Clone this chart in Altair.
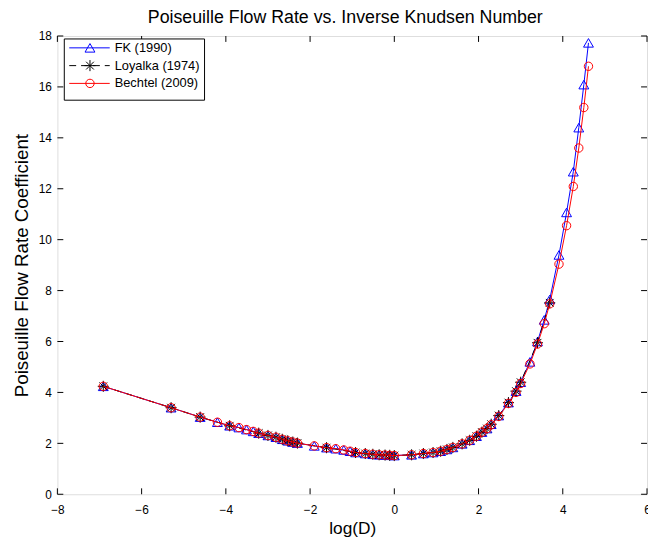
import altair as alt
import pandas as pd

series = ["FK (1990)", "Loyalka (1974)", "Bechtel (2009)"]

fk_x = [-6.91, -5.30, -4.61, -4.20, -3.91, -3.69, -3.51, -3.35, -3.22, -3.00,
        -2.81, -2.66, -2.53, -2.41, -2.30, -1.90, -1.61, -1.39, -1.20, -1.05,
        -0.92, -0.69, -0.51, -0.36, -0.22, -0.11, 0.00, 0.41, 0.69, 0.92,
        1.10, 1.25, 1.39, 1.61, 1.79, 1.95, 2.08, 2.20, 2.30, 2.48,
        2.71, 2.89, 3.00, 3.22, 3.40, 3.56, 3.69, 3.91, 4.09, 4.25,
        4.38, 4.50, 4.61]
fk_y = [4.24, 3.40, 3.03, 2.83, 2.69, 2.62, 2.54, 2.47, 2.40, 2.31,
        2.24, 2.16, 2.10, 2.05, 2.01, 1.90, 1.83, 1.79, 1.74, 1.69,
        1.64, 1.60, 1.57, 1.55, 1.54, 1.53, 1.52, 1.55, 1.60, 1.64,
        1.69, 1.76, 1.84, 1.98, 2.12, 2.28, 2.44, 2.58, 2.75, 3.09,
        3.60, 4.05, 4.40, 5.20, 6.00, 6.85, 7.65, 9.40, 11.07, 12.67,
        14.40, 16.09, 17.73]

loy_x = [-6.91, -5.30, -4.61, -3.91, -3.22, -3.00, -2.81, -2.66, -2.53, -2.41,
         -2.30, -1.61, -0.92, -0.69, -0.51, -0.36, -0.22, -0.11, 0.00, 0.41,
         0.69, 0.92, 1.10, 1.25, 1.39, 1.61, 1.79, 1.95, 2.08, 2.20,
         2.30, 2.48, 2.71, 2.89, 3.00, 3.40, 3.69]
loy_y = [4.24, 3.40, 3.03, 2.69, 2.40, 2.31, 2.24, 2.16, 2.10, 2.05,
         2.01, 1.83, 1.64, 1.60, 1.57, 1.55, 1.54, 1.53, 1.52, 1.55,
         1.60, 1.64, 1.69, 1.76, 1.84, 1.98, 2.12, 2.28, 2.44, 2.58,
         2.75, 3.09, 3.60, 4.05, 4.40, 5.95, 7.52]

bech_x = [-6.91, -5.30, -4.61, -4.20, -3.91, -3.69, -3.51, -3.35, -3.22, -3.00,
          -2.81, -2.66, -2.53, -2.41, -2.30, -1.90, -1.61, -1.39, -1.20, -1.05,
          -0.92, -0.69, -0.51, -0.36, -0.22, -0.11, 0.00, 0.41, 0.69, 0.92,
          1.10, 1.25, 1.39, 1.61, 1.79, 1.95, 2.08, 2.20, 2.30, 2.48,
          2.71, 2.89, 3.00, 3.22, 3.40, 3.56, 3.69, 3.91, 4.09, 4.25,
          4.38, 4.50, 4.61]
bech_y = [4.24, 3.40, 3.03, 2.83, 2.69, 2.62, 2.54, 2.47, 2.40, 2.31,
          2.24, 2.16, 2.10, 2.05, 2.01, 1.90, 1.83, 1.79, 1.74, 1.69,
          1.64, 1.60, 1.57, 1.55, 1.54, 1.53, 1.52, 1.55, 1.60, 1.64,
          1.69, 1.76, 1.84, 1.98, 2.12, 2.28, 2.44, 2.58, 2.73, 3.06,
          3.57, 4.00, 4.35, 5.12, 5.90, 6.70, 7.48, 9.04, 10.55, 12.09,
          13.60, 15.19, 16.81]

x_ticks = [-8, -6, -4, -2, 0, 2, 4, 6]
y_ticks = [0, 2, 4, 6, 8, 10, 12, 14, 16, 18]

W, H = 597, 464
FONT = "Liberation Sans"
STAR = "M-1,0L1,0M0,-1L0,1M-0.7,-0.7L0.7,0.7M-0.7,0.7L0.7,-0.7"

xs = alt.Scale(domain=[-8, 6], nice=False, zero=False)
ys = alt.Scale(domain=[0, 18], nice=False, zero=False)

xaxis = alt.Axis(values=x_ticks, title="log(D)", grid=False, domain=False, ticks=False,
                 labelFont=FONT, labelFontSize=12, labelColor="black", labelPadding=10,
                 titleFont=FONT, titleFontSize=17.5, titleFontWeight="normal", titleColor="black",
                 titlePadding=5, labelFlush=False)
yaxis = alt.Axis(values=y_ticks, title="Poiseuille Flow Rate Coefficient", grid=False, domain=False,
                 ticks=False, labelFont=FONT, labelFontSize=12, labelColor="black", labelPadding=6,
                 titleFont=FONT, titleFontSize=19, titleFontWeight="normal", titleColor="black",
                 titlePadding=7, labelFlush=False)

def df(x, y):
    return pd.DataFrame({"x": x, "y": y})

def series_layers(x, y, color, shape, size, dash=None):
    d = df(x, y)
    line_kwargs = dict(color=color, strokeWidth=1)
    if dash:
        line_kwargs["strokeDash"] = dash
    line = alt.Chart(d).mark_line(**line_kwargs).encode(
        x=alt.X("x:Q", scale=xs, axis=xaxis), y=alt.Y("y:Q", scale=ys, axis=yaxis))
    pts = alt.Chart(d).mark_point(shape=shape, filled=False, color=color, size=size,
                                  strokeWidth=1, opacity=1).encode(
        x=alt.X("x:Q", scale=xs), y=alt.Y("y:Q", scale=ys))
    return [line, pts]

TRI, STR, CIR = 100, 125, 72
layers = []
layers += series_layers(fk_x, fk_y, "#0000ff", "triangle-up", TRI)
layers += series_layers(loy_x, loy_y, "#000000", STAR, STR, dash=[7, 5])
layers += series_layers(bech_x, bech_y, "#ff0000", "circle", CIR)

# inward tick marks (MATLAB style box)
tx = pd.DataFrame({"t": x_ticks})
ty = pd.DataFrame({"t": y_ticks})
TL = 6
layers.append(alt.Chart(tx).mark_rule(color="black", strokeWidth=1).encode(
    x=alt.X("t:Q", scale=xs), y=alt.value(H), y2=alt.value(H - TL)))
layers.append(alt.Chart(tx).mark_rule(color="black", strokeWidth=1).encode(
    x=alt.X("t:Q", scale=xs), y=alt.value(0), y2=alt.value(TL)))
layers.append(alt.Chart(ty).mark_rule(color="black", strokeWidth=1).encode(
    y=alt.Y("t:Q", scale=ys), x=alt.value(0), x2=alt.value(TL)))
layers.append(alt.Chart(ty).mark_rule(color="black", strokeWidth=1).encode(
    y=alt.Y("t:Q", scale=ys), x=alt.value(W), x2=alt.value(W - TL)))

# legend
one = pd.DataFrame({"a": [0]})
LX0, LX1, LY0, LY1 = 7, 149, 3, 65
layers.append(alt.Chart(one).mark_rect(fill="white", stroke="black", strokeWidth=1).encode(
    x=alt.value(LX0), x2=alt.value(LX1), y=alt.value(LY0), y2=alt.value(LY1)))
leg_styles = [("#0000ff", "triangle-up", TRI, None),
              ("#000000", STAR, STR, [7, 5]),
              ("#ff0000", "circle", CIR, None)]
rows = [12, 30, 48]
for name, (col, shp, sz, dash), ry in zip(series, leg_styles, rows):
    rk = dict(color=col, strokeWidth=1)
    if dash:
        rk["strokeDash"] = dash
    layers.append(alt.Chart(one).mark_rule(**rk).encode(
        x=alt.value(12), x2=alt.value(53), y=alt.value(ry)))
    layers.append(alt.Chart(one).mark_point(shape=shp, filled=False, color=col, size=sz,
                                            strokeWidth=1, opacity=1).encode(
        x=alt.value(33), y=alt.value(ry)))
    layers.append(alt.Chart(one).mark_text(text=name, font=FONT, fontSize=13, color="black",
                                           align="left", baseline="middle").encode(
        x=alt.value(58), y=alt.value(ry)))

chart = alt.layer(*layers).properties(
    width=W, height=H,
    title=alt.TitleParams("Poiseuille Flow Rate vs. Inverse Knudsen Number", font=FONT,
                          fontSize=18, fontWeight="normal", color="black", anchor="middle",
                          offset=3, dx=-7),
    padding={"left": 50, "top": 25, "right": 1, "bottom": 46},
    autosize=alt.AutoSizeParams(type="none"),
).configure_view(stroke="black", strokeWidth=1).configure(background="white")

chart.save("out.html", embed_options={"renderer": "svg", "actions": False})
